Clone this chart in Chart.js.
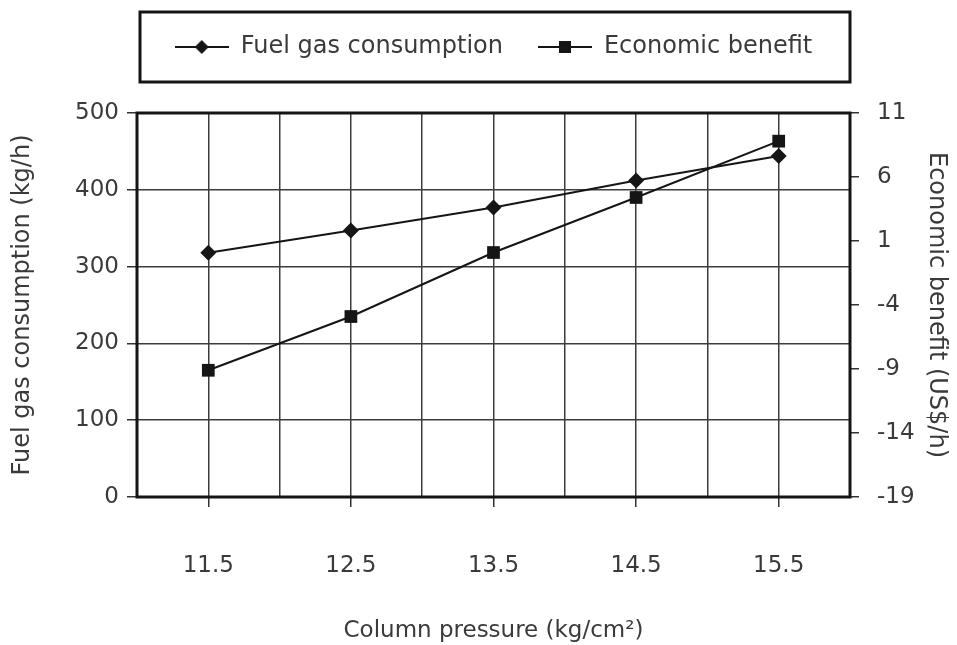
<!DOCTYPE html>
<html>
<head>
<meta charset="utf-8">
<script src="https://cdn.jsdelivr.net/npm/chart.js@4.4.1/dist/chart.umd.min.js"></script>
<style>
  body { margin: 0; background: #fff; }
</style>
</head>
<body>
<canvas id="pressureChart" width="957" height="645"></canvas>
<script>
// Column pressure vs fuel gas consumption / economic benefit

const pressures = [11.5, 12.5, 13.5, 14.5, 15.5];
const fuelGas = [318, 347, 377, 412, 444];
const econBenefit = [-9.1, -4.9, 0.1, 4.4, 8.8];
const leftTicks = [0, 100, 200, 300, 400, 500];
const rightTicks = [-19, -14, -9, -4, 1, 6, 11];

const FONT = "'DejaVu Sans', sans-serif";
const TEXT = "#3a3a3a";
const INK = "#151515";

// legend icon: line with the marker in the middle
function legendIcon(shape) {
  const c = document.createElement("canvas");
  c.width = 54;
  c.height = 18;
  const g = c.getContext("2d");
  g.strokeStyle = INK;
  g.lineWidth = 2;
  g.beginPath();
  g.moveTo(0, 9);
  g.lineTo(54, 9);
  g.stroke();
  g.fillStyle = INK;
  if (shape === "diamond") {
    g.beginPath();
    g.moveTo(27, 2);
    g.lineTo(34, 9);
    g.lineTo(27, 16);
    g.lineTo(20, 9);
    g.closePath();
    g.fill();
  } else {
    g.fillRect(21, 3, 12, 12);
  }
  return c;
}
const icons = [legendIcon("diamond"), legendIcon("square")];

const framePlugin = {
  id: "frame",
  beforeDatasetsDraw(chart) {
    const { ctx, chartArea: a } = chart;
    ctx.save();
    ctx.strokeStyle = INK;
    ctx.lineWidth = 3;
    ctx.strokeRect(a.left, a.top, a.right - a.left, a.bottom - a.top);
    ctx.restore();
  },
  afterDraw(chart) {
    // box round the legend
    const { ctx, chartArea: a } = chart;
    const hb = chart.legend.legendHitBoxes[0];
    if (!hb) return;
    const cy = hb.top + hb.height / 2;
    ctx.save();
    ctx.strokeStyle = INK;
    ctx.lineWidth = 3;
    ctx.strokeRect(a.left + 3, cy - 35, a.right - a.left - 3, 70);
    ctx.restore();
  },
};

const ctx = document.getElementById("pressureChart").getContext("2d");

new Chart(ctx, {
  type: "line",
  data: {
    datasets: [
      {
        label: "Fuel gas consumption",
        data: pressures.map((p, i) => ({ x: p, y: fuelGas[i] })),
        yAxisID: "y",
        borderColor: INK,
        backgroundColor: INK,
        borderWidth: 2,
        pointStyle: "rectRot",
        pointRadius: 8,
        pointBorderWidth: 0,
        tension: 0,
      },
      {
        label: "Economic benefit",
        data: pressures.map((p, i) => ({ x: p, y: econBenefit[i] })),
        yAxisID: "yR",
        borderColor: INK,
        backgroundColor: INK,
        borderWidth: 2,
        pointStyle: "rect",
        pointRadius: 9,
        pointBorderWidth: 0,
        tension: 0,
      },
    ],
  },
  options: {
    responsive: false,
    animation: false,
    layout: { padding: 0 },
    plugins: {
      legend: {
        position: "top",
        fullSize: false,
        labels: {
          usePointStyle: true,
          pointStyleWidth: 54,
          padding: 35,
          color: TEXT,
          font: { family: FONT, size: 24 },
          generateLabels: (chart) =>
            Chart.defaults.plugins.legend.labels
              .generateLabels(chart)
              .map((l, i) => ({ ...l, pointStyle: icons[i] })),
        },
      },
      // empty spacer between legend and plot
      title: {
        display: true,
        text: "",
        position: "top",
        weight: 500,
        font: { size: 10 },
        padding: { top: 32, bottom: 0 },
      },
      tooltip: { enabled: false },
    },
    scales: {
      x: {
        type: "linear",
        min: 11,
        max: 16,
        afterFit: (s) => { s.height = 148; },
        border: { display: false },
        grid: {
          color: "#3c3c3c",
          lineWidth: 1.5,
          tickLength: 10,
          tickColor: (c) => (pressures.includes(c.tick.value) ? "#333" : "rgba(0,0,0,0)"),
        },
        ticks: {
          stepSize: 0.5,
          autoSkip: false,
          maxRotation: 0,
          padding: 45,
          color: TEXT,
          font: { family: FONT, size: 23 },
          callback: (v) => (pressures.includes(v) ? v.toFixed(1) : ""),
        },
        title: {
          display: true,
          text: "Column pressure (kg/cm²)",
          color: TEXT,
          font: { family: FONT, size: 23 },
          padding: { top: 0, bottom: 0 },
        },
      },
      y: {
        position: "left",
        min: leftTicks[0],
        max: leftTicks[leftTicks.length - 1],
        afterFit: (s) => { s.width = 137; },
        border: { display: false },
        grid: { color: "#3c3c3c", lineWidth: 1.5, tickLength: 10, tickColor: "#333" },
        ticks: {
          stepSize: 100,
          padding: 8,
          color: TEXT,
          font: { family: FONT, size: 23 },
        },
        title: {
          display: true,
          text: "Fuel gas consumption (kg/h)",
          color: TEXT,
          font: { family: FONT, size: 24 },
          padding: { top: 8, bottom: 0 },
        },
      },
      yR: {
        position: "right",
        min: rightTicks[0],
        max: rightTicks[rightTicks.length - 1],
        afterFit: (s) => { s.width = 107; },
        border: { display: false },
        grid: { drawOnChartArea: false, tickLength: 9, tickColor: "#333", lineWidth: 1.5 },
        ticks: {
          stepSize: 5,
          padding: 18,
          color: TEXT,
          font: { family: FONT, size: 23 },
        },
        title: {
          display: true,
          text: "Economic benefit (US$/h)",
          color: TEXT,
          font: { family: FONT, size: 24 },
          padding: { top: 6, bottom: 0 },
        },
      },
    },
  },
  plugins: [framePlugin],
});
</script>
</body>
</html>
